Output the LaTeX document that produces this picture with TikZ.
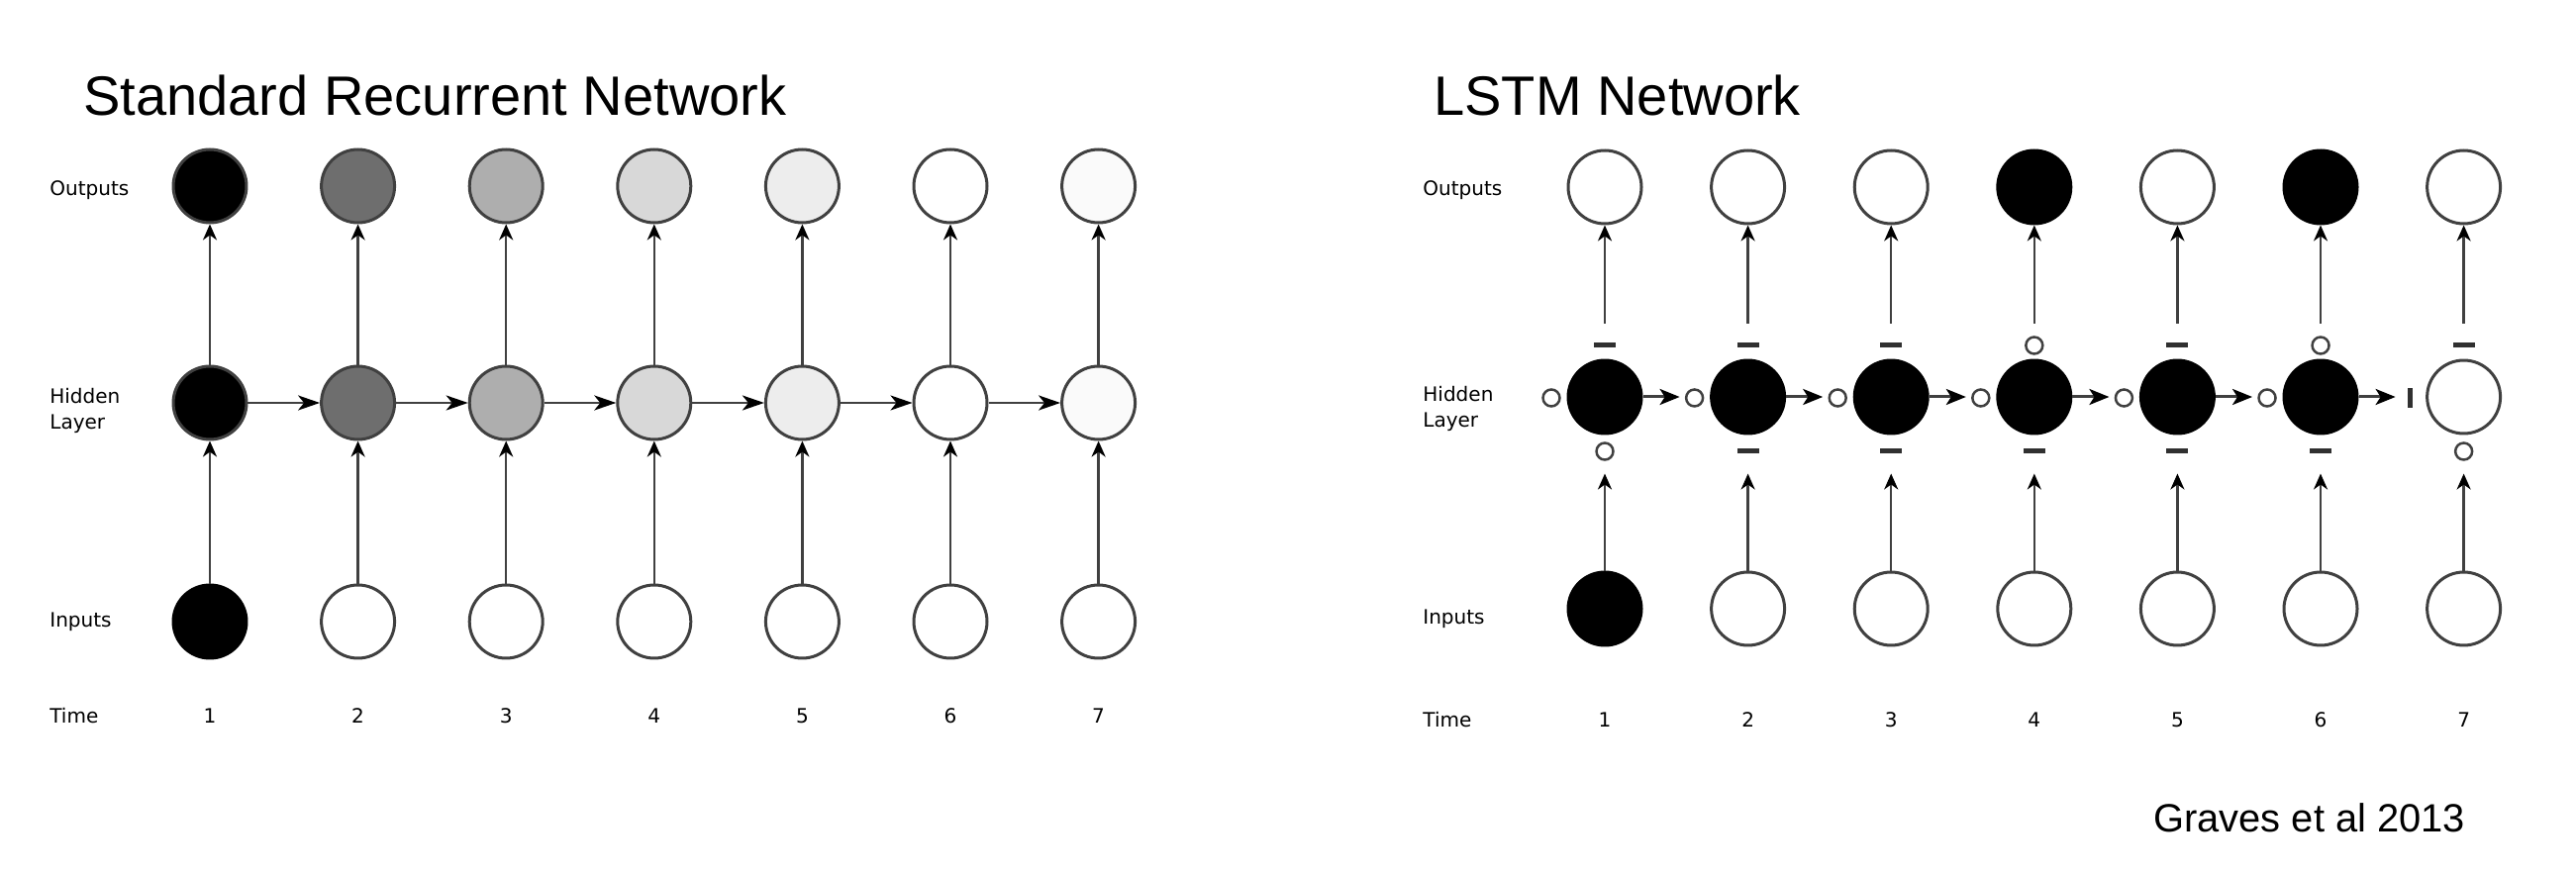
\documentclass[tikz,border=0pt]{standalone}
\usepackage{fontspec}
\setmainfont{Liberation Sans}
\newfontfamily\labelfont{DejaVu Sans}
\usetikzlibrary{arrows.meta}
\definecolor{linegray}{HTML}{404040}
\definecolor{dashgray}{HTML}{303030}
\definecolor{sa}{HTML}{000000}
\definecolor{sb}{HTML}{6E6E6E}
\definecolor{sc}{HTML}{AEAEAE}
\definecolor{sd}{HTML}{D8D8D8}
\definecolor{se}{HTML}{EDEDED}
\definecolor{sf}{HTML}{FFFFFF}
\definecolor{sg}{HTML}{FAFAFA}
\begin{document}
\begin{tikzpicture}[x=0.02cm,y=-0.02cm,
  unit/.style={circle, draw=linegray, line width=0.06cm, minimum size=1.48cm, inner sep=0pt},
  blk/.style={unit, fill=black, draw=black},
  wht/.style={unit, fill=white},
  gateo/.style={circle, draw=linegray, line width=0.05cm, minimum size=0.34cm, inner sep=0pt},
  gatec/.style={rectangle, fill=dashgray, minimum width=0.44cm, minimum height=0.1cm, inner sep=0pt},
  gatev/.style={rectangle, fill=dashgray, minimum width=0.1cm, minimum height=0.4cm, inner sep=0pt},
  lbl/.style={font=\labelfont\fontsize{11.4}{14.6}\selectfont, align=left, anchor=west, inner sep=0pt},
  num/.style={font=\labelfont\fontsize{11.4}{14.6}\selectfont, inner sep=0pt},
  ttl/.style={font=\fontsize{31.9}{38}\selectfont, anchor=base west, inner sep=0pt},
  varr/.style={draw=linegray, line width=0.05cm, -{Stealth[length=0.32cm,width=0.28cm,inset=0.1cm,color=black]}},
  larr/.style={draw=linegray, line width=0.05cm, -{Stealth[length=0.44cm,width=0.3cm,inset=0.12cm,color=black]}},
  rarr/.style={draw=linegray, line width=0.06cm, -{Stealth[length=0.4cm,width=0.32cm,inset=0.1cm,color=black]}}
]
\useasboundingbox (0,0) rectangle (2602,884);

% ---------------- Titles ----------------
\node[ttl] (t1) at (84,117) {Standard Recurrent Network};
\node[ttl] (t2) at (1448,117) {LSTM Network};
\node[font=\fontsize{22.7}{27}\selectfont, anchor=base west, inner sep=0pt] (cite) at (2175,840) {Graves et al 2013};

% ---------------- Left panel ----------------
\node[lbl] (lout) at (50,192) {Outputs};
\node[lbl] (lhid) at (50,415) {Hidden\\Layer};
\node[lbl] (linp) at (50,628) {Inputs};
\node[lbl] (ltim) at (50,723) {Time};

\foreach \i/\f in {1/sa,2/sb,3/sc,4/sd,5/se,6/sf,7/sg} {
  \pgfmathsetmacro\x{212+149.6*(\i-1)}
  \node[unit, fill=\f] (lo\i) at (\x,188) {};
  \node[unit, fill=\f] (lh\i) at (\x,407) {};
  \node[num] (ln\i) at (\x,723) {\i};
}
\node[blk] (li1) at (212,628) {};
\foreach \i in {2,...,7} {
  \pgfmathsetmacro\x{212+149.6*(\i-1)}
  \node[wht] (li\i) at (\x,628) {};
}
\foreach \i in {1,...,7} {
  \draw[varr] (li\i) -- (lh\i);
  \draw[varr] (lh\i) -- (lo\i);
}
\foreach \i [evaluate=\i as \j using int(\i+1)] in {1,...,6} {
  \draw[larr] (lh\i) -- (lh\j);
}

% ---------------- Right panel ----------------
\node[lbl] (rout) at (1437,192) {Outputs};
\node[lbl] (rhid) at (1437,413) {Hidden\\Layer};
\node[lbl] (rinp) at (1437,625) {Inputs};
\node[lbl] (rtim) at (1437,727) {Time};

\foreach \i/\o/\h/\n in {1/wht/blk/blk,2/wht/blk/wht,3/wht/blk/wht,4/blk/blk/wht,5/wht/blk/wht,6/blk/blk/wht,7/wht/wht/wht} {
  \pgfmathsetmacro\x{1621+144.6*(\i-1)}
  \node[\o] (ro\i) at (\x,189) {};
  \node[\h] (rh\i) at (\x,401) {};
  \node[\n] (ri\i) at (\x,615) {};
  \node[num] (rn\i) at (\x,727) {\i};
}
% gates: above (output), below (input), left (forget)
\foreach \i/\a/\b/\l in {1/gatec/gateo/gateo,2/gatec/gatec/gateo,3/gatec/gatec/gateo,4/gateo/gatec/gateo,5/gatec/gatec/gateo,6/gateo/gatec/gateo,7/gatec/gateo/gatev} {
  \pgfmathsetmacro\x{1621+144.6*(\i-1)}
  \pgfmathsetmacro\xl{\x-54}
  \node[\a] (ra\i) at (\x,349) {};
  \node[\b] (rb\i) at (\x,456) {};
  \node[\l] (rl\i) at (\xl,402) {};
}
\foreach \i in {1,...,7} {
  \draw[varr, shorten >=0.78cm] (ri\i) -- (rh\i);
  \draw[varr, shorten <=0.72cm] (rh\i) -- (ro\i);
}
\foreach \i [evaluate=\i as \j using int(\i+1)] in {1,...,6} {
  \draw[rarr, shorten >=0.61cm] (rh\i) -- (rh\j);
}
\end{tikzpicture}
\end{document}
